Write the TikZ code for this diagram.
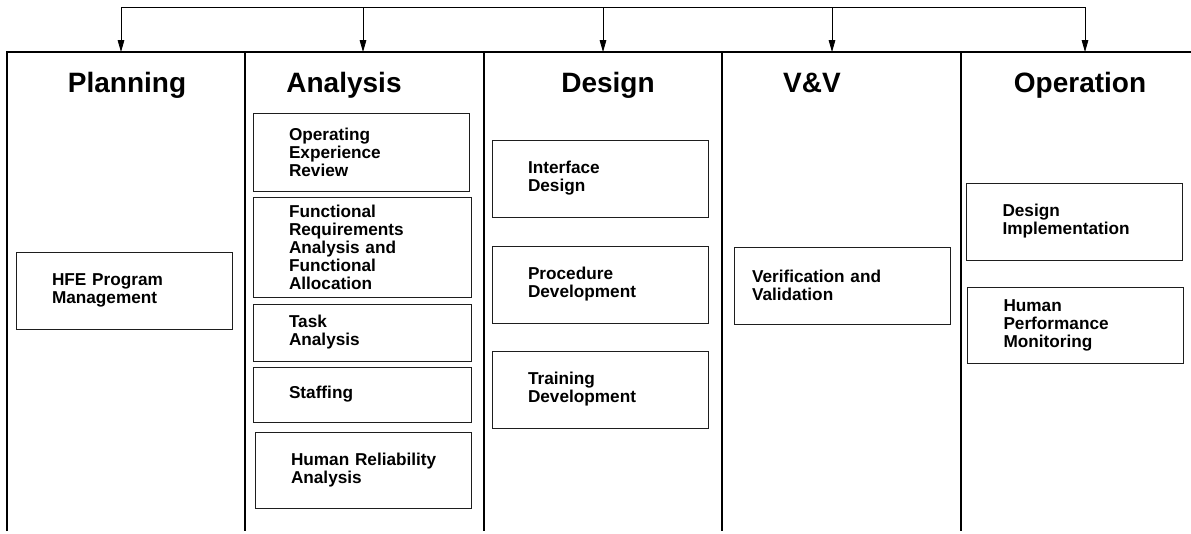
\documentclass[tikz,border=0pt]{standalone}
\usepackage{fontspec}
\setmainfont{Liberation Sans}
\usepackage{tikz}
\usetikzlibrary{arrows.meta}
\definecolor{lineGray}{RGB}{30, 30, 30}

\tikzset{
  head/.style={anchor=base, font=\fontsize{21}{25}\selectfont\bfseries},
  stage/.style={draw=lineGray, line width=0.7pt, align=left, inner xsep=27pt,
    text width=108pt, font=\fontsize{12.9}{13.5}\selectfont\bfseries},
  flow/.style={-{Triangle[length=9pt,width=5pt]}, line width=0.6pt}
}

\begin{document}
\begin{tikzpicture}[x=0.75pt, y=-0.75pt]
  \useasboundingbox (0,0) rectangle (1191,533);

  % 1. columns
  \draw[line width=0.8pt] (7,531) -- (7,52) -- (1191,52);
  \foreach \x in {245,484,722,961}
    \draw[line width=0.8pt] (\x,52) -- (\x,531);

  % 2. feed line and arrows
  \foreach \x/\n in {121/plan,363/anal,603/desg,832/vv,1085/oper}{
    \coordinate (bus-\n) at (\x,7);
    \coordinate (col-\n) at (\x,52);
  }
  \draw[line width=0.6pt] (bus-plan) -- (bus-oper);
  \foreach \n in {plan,anal,desg,vv,oper}
    \draw[flow] (bus-\n) -- (col-\n);

  % 3. headings
  \node[head] (planH) at (127,92) {Planning};
  \node[head] (analH) at (344,92) {Analysis};
  \node[head] (desgH) at (608,92) {Design};
  \node[head] (vvH)   at (812,92) {V\&V};
  \node[head] (operH) at (1080,92) {Operation};

  % 4. Planning
  \node[stage, minimum height=57.75pt] (hfe) at (124,290.5) {HFE Program\\Management};

  % 5. Analysis
  \node[stage, minimum height=58.5pt] (oer) at (361,152) {Operating\\Experience\\Review};
  \node[stage, minimum height=75pt, text width=109.5pt] (fra) at (362,247)
    {Functional\\Requirements\\Analysis and\\Functional\\Allocation};
  \node[stage, minimum height=42.75pt, text width=109.5pt] (task) at (362,332.5) {Task\\Analysis};
  \node[stage, minimum height=41.25pt, text width=109.5pt] (staff) at (362,394.5) {Staffing};
  \node[stage, minimum height=57pt] (hra) at (363,470) {\mbox{Human Reliability}\\Analysis};

  % 6. Design
  \node[stage, minimum height=57.75pt] (intf)  at (600,178.5) {Interface\\Design};
  \node[stage, minimum height=57.75pt] (proc)  at (600,284.5) {Procedure\\Development};
  \node[stage, minimum height=57.75pt] (train) at (600,389.5) {Training\\Development};

  % 7. V&V
  \node[stage, minimum height=57.75pt, inner xsep=13.5pt, text width=135pt] (vv) at (842,285.5)
    {Verification and\\Validation};

  % 8. Operation
  \node[stage, minimum height=57.75pt] (dimp) at (1074.5,221.5) {Design\\Implementation};
  \node[stage, minimum height=57pt] (hpm) at (1075.5,325) {Human\\Performance\\Monitoring};
\end{tikzpicture}
\end{document}
